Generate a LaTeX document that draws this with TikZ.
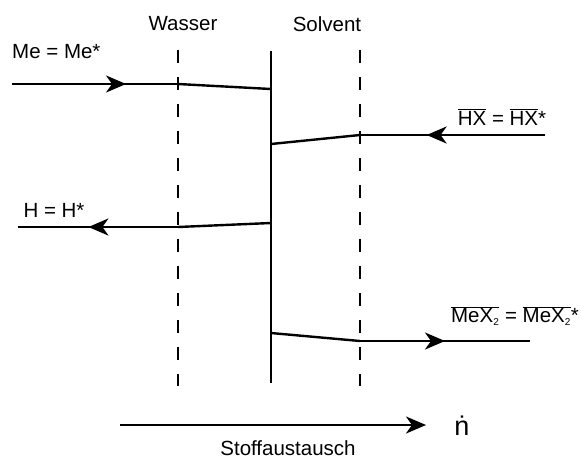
\documentclass[tikz,border=0pt]{standalone}
\usepackage{fontspec}
\setmainfont{Liberation Sans}
\usetikzlibrary{arrows.meta,decorations.markings}
\begin{document}
\begin{tikzpicture}[x=1pt,y=-1pt,
  lbl/.style={inner sep=0pt,font=\fontsize{20.5}{24}\selectfont},
  flow/.style={line width=2.4pt},
  thinflow/.style={line width=1.7pt},
  phase/.style={line width=2.6pt,dash pattern=on 13pt off 14pt},
  interface/.style={line width=2.4pt},
  arrowat/.style={postaction={decorate},decoration={markings,
    mark=at position #1 with {\arrow{Stealth[length=20pt,width=17pt,inset=6pt]}}}}
]
\useasboundingbox (0,0) rectangle (581,459);

% phase boundaries
\coordinate (wtop) at (178,50);  \coordinate (wbot) at (178,386);
\coordinate (itop) at (271,51);  \coordinate (ibot) at (271,383);
\coordinate (stop) at (360,50);  \coordinate (sbot) at (360,386);
\draw[phase] (wtop) -- (wbot);
\draw[phase] (stop) -- (sbot);
\draw[interface] (itop) -- (ibot);

\node[lbl] (wasser) at (183,24) {Wasser};
\node[lbl] (solvent) at (327,24) {Solvent};

% Me: water side towards the interface
\coordinate (me0) at (12,84);
\coordinate (me1) at (80,84);
\coordinate (me2) at (178,84);
\coordinate (me3) at (271,89);
\draw[thinflow] (me0) -- (me1);
\draw[flow,arrowat=0.47] (me1) -- (me2);
\draw[flow] (me2) -- (me3);
\node[lbl,anchor=west] (melbl) at (12,52) {Me = Me*};

% HX: solvent side towards the interface
\coordinate (hx0) at (545,135);
\coordinate (hx1) at (360,135);
\coordinate (hx2) at (271,144);
\draw[flow,arrowat=0.64] (hx0) -- (hx1);
\draw[flow] (hx1) -- (hx2);
\node[lbl] (hxlbl) at (502,117) {$\overline{\mbox{HX}}$ = $\overline{\mbox{HX}}$*};

% H: interface back into the water
\coordinate (h0) at (271,223);
\coordinate (h1) at (178,227);
\coordinate (h2) at (18,227);
\draw[flow] (h0) -- (h1);
\draw[flow,arrowat=0.56] (h1) -- (h2);
\node[lbl] (hlbl) at (54,210) {H = H*};

% MeX2: interface into the solvent
\coordinate (mx0) at (271,333);
\coordinate (mx1) at (360,341);
\coordinate (mx2) at (530,341);
\draw[flow] (mx0) -- (mx1);
\draw[flow,arrowat=0.5] (mx1) -- (mx2);
\node[lbl] (mxlbl) at (515,316) {$\overline{\mbox{MeX\textsubscript{\fontsize{10}{10}\selectfont 2}}}$ = $\overline{\mbox{MeX\textsubscript{\fontsize{10}{10}\selectfont 2}}}$*};

% mass transfer direction
\coordinate (ms0) at (120,425);
\coordinate (ms1) at (426,425);
\draw[flow,-{Stealth[length=20pt,width=17pt,inset=6pt]}] (ms0) -- (ms1);
\node[lbl,font=\fontsize{27}{30}\selectfont] (ndot) at (462,426) {ṅ};
\node[lbl] (stoff) at (288,448) {Stoffaustausch};
\end{tikzpicture}
\end{document}
